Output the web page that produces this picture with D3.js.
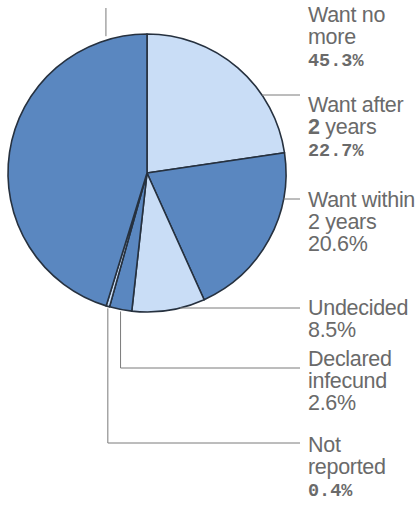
<!DOCTYPE html>
<html>
<head>
<meta charset="utf-8">
<script src="https://cdn.jsdelivr.net/npm/d3@7"></script>
<style>
  html, body { margin: 0; padding: 0; background: #fff; }
  svg { display: block; }
</style>
</head>
<body>
<svg id="pie-svg" width="418" height="507"></svg>
<script>
// slices, clockwise from 12 o'clock
const categories = ["Want after 2 years", "Want within 2 years", "Undecided", "Declared infecund", "Not reported", "Want no more"];
const values = [22.7, 20.6, 8.5, 2.6, 0.4, 45.3];
const labelLines = [["Want after", "2 years"], ["Want within", "2 years"], ["Undecided"], ["Declared", "infecund"], ["Not", "reported"], ["Want no", "more"]];

const width = 418, height = 507;
const cx = 147, cy = 173, r = 139;
const textX = 308, lineH = 22;
const fills = ["#c9ddf6", "#5a87c0", "#c9ddf6", "#5a87c0", "#c9ddf6", "#5a87c0"];
// first baseline of each label block, and how its leader line is drawn
const layout = [
    { y: 112, lead: 'h', ly: 95, mono: true, boldLead: true },
    { y: 207, lead: 'h', ly: 199 },
    { y: 315, lead: 'h', ly: 308 },
    { y: 366, lead: 'v', ly: 368 },
    { y: 452, lead: 'v', ly: 443, mono: true },
    { y: 22, lead: 'top', mono: true }
];

const svg = d3.select('#pie-svg');
const fmt = d3.format('.1f');

const pie = d3.pie().sort(null).startAngle(0).endAngle(2 * Math.PI);
const arcs = pie(values);
const arc = d3.arc().innerRadius(0).outerRadius(r);

const g = svg.append('g').attr('transform', `translate(${cx},${cy})`);
g.selectAll('path')
    .data(arcs)
    .join('path')
    .attr('d', arc)
    .attr('fill', (d, i) => fills[i])
    .attr('stroke', '#26313f')
    .attr('stroke-width', 1.6)
    .attr('stroke-linejoin', 'round');

// leader lines
const leaders = svg.append('g')
    .attr('stroke', '#7a7a7a')
    .attr('stroke-width', 1)
    .attr('fill', 'none');

arcs.forEach((d, i) => {
    const L = layout[i];
    const mid = (d.startAngle + d.endAngle) / 2;
    if (L.lead === 'h') {
        const dy = L.ly - cy;
        const x0 = cx + Math.sqrt(r * r - dy * dy);
        leaders.append('path').attr('d', `M${x0},${L.ly}H${textX - 8}`);
    } else if (L.lead === 'v') {
        const x = cx + r * Math.sin(mid);
        const y0 = cy - r * Math.cos(mid) + 2;
        leaders.append('path').attr('d', `M${x},${y0}V${L.ly}H${textX - 8}`);
    } else {
        // lone tick above the big slice
        const a = 2 * Math.PI - 0.3;
        const x = cx + r * Math.sin(a);
        leaders.append('path').attr('d', `M${x},8V${cy - r * Math.cos(a) - 4}`);
    }
});

// labels
const labels = svg.append('g')
    .attr('fill', '#6a6a6a')
    .attr('font-family', '"Liberation Sans", Arial, sans-serif')
    .attr('font-size', 21.5)
    .attr('letter-spacing', '-0.3px');

arcs.forEach((d, i) => {
    const L = layout[i];
    const lines = labelLines[i];
    lines.forEach((s, j) => {
        const t = labels.append('text').attr('x', textX).attr('y', L.y + j * lineH);
        if (L.boldLead && j === 1) {
            const parts = s.split(' ');
            t.append('tspan').attr('font-weight', 'bold').text(parts[0]);
            t.append('tspan').text(' ' + parts.slice(1).join(' '));
        } else {
            t.text(s);
        }
    });
    const p = labels.append('text')
        .attr('x', textX)
        .attr('y', L.y + lines.length * lineH)
        .text(fmt(values[i]) + '%');
    if (L.mono) {
        p.attr('font-family', '"Liberation Mono", "DejaVu Sans Mono", monospace')
            .attr('font-size', 18.5)
            .attr('font-weight', 'bold')
            .attr('letter-spacing', '0px');
    }
});
</script>
</body>
</html>
